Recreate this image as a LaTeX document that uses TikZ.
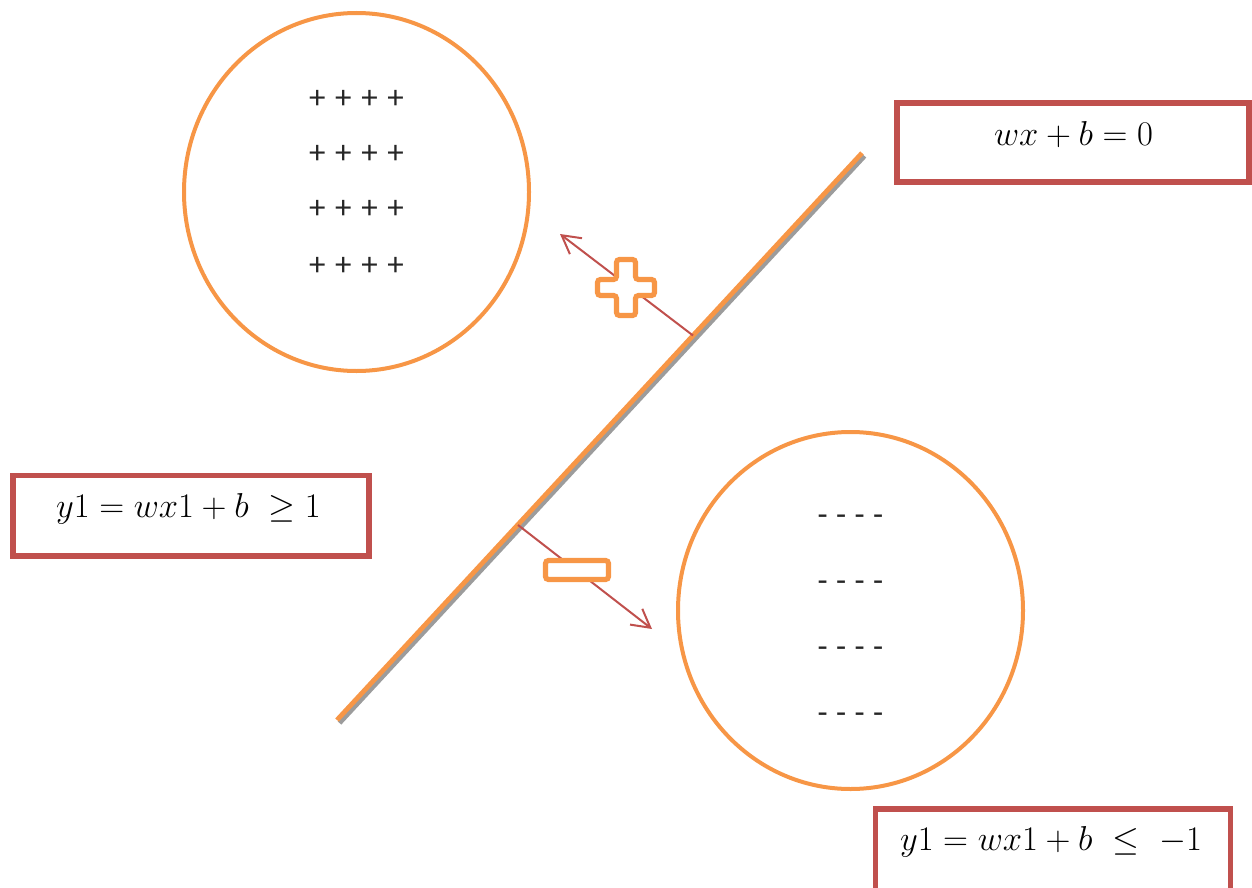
\documentclass[tikz,border=0pt]{standalone}
\usepackage{fontspec}
\newfontfamily\calibri{Carlito}
\usetikzlibrary{arrows.meta}
\definecolor{orng}{HTML}{F79646}
\definecolor{rd}{HTML}{C0504D}
\definecolor{shd}{HTML}{9C9C9C}
\definecolor{ink}{HTML}{262626}
\tikzset{
  ring/.style={draw=orng, line width=2pt},
  eqbox/.style={draw=rd, line width=2.6pt, fill=white, inner sep=0pt},
  eqtext/.style={font=\fontsize{17}{20}\selectfont, inner sep=0pt, anchor=base},
  plusrow/.style={text=ink, font={\calibri\fontsize{16.5}{20}\selectfont\spaceskip=4.8pt\relax}, inner sep=0pt, anchor=center},
  minusrow/.style={text=ink, font={\calibri\fontsize{16.5}{20}\selectfont\spaceskip=4.2pt\relax}, inner sep=0pt, anchor=center},
  normalarrow/.style={draw=rd, line width=1pt, -{Straight Barb[length=9pt,width=10pt]}},
  signshape/.style={draw=orng, line width=2.6pt, fill=white, rounded corners=1.5pt},
}
\begin{document}
\begin{tikzpicture}[x=0.5pt,y=-0.5pt]
\useasboundingbox (0,0) rectangle (1252,888);

% regions
\draw[ring] (356.5,192) ellipse [x radius=172.5, y radius=179];
\draw[ring] (850.5,610.5) ellipse [x radius=172.5, y radius=178.5];

\node[plusrow] (p1) at (356.5,99.5) {+ + + +};
\node[plusrow] (p2) at (356.5,154) {+ + + +};
\node[plusrow] (p3) at (356.5,209) {+ + + +};
\node[plusrow] (p4) at (356.5,266) {+ + + +};

\node[minusrow] (m1) at (850.5,520) {- - - -};
\node[minusrow] (m2) at (850.5,586) {- - - -};
\node[minusrow] (m3) at (850.5,652) {- - - -};
\node[minusrow] (m4) at (850.5,718) {- - - -};

% separating line with shadow
\coordinate (L0) at (337,720);
\coordinate (L1) at (862,153);
\draw[shd, line width=2.4pt] ([shift={(2.5,3)}]L0) -- ([shift={(2.5,3)}]L1);
\draw[orng, line width=2.4pt] (L0) -- (L1);

% normals
\coordinate (A1) at (693,335.5);
\coordinate (T1) at (560,234);
\coordinate (A2) at (518,525);
\coordinate (T2) at (652,629);
\draw[normalarrow] (A1) -- (T1);
\draw[normalarrow] (A2) -- (T2);

% plus sign
\draw[signshape] (616.5,259.5) -- (635.5,259.5) -- (635.5,279.5) -- (654.5,279.5)
  -- (654.5,295.5) -- (635.5,295.5) -- (635.5,315.5) -- (616.5,315.5)
  -- (616.5,295.5) -- (597.5,295.5) -- (597.5,279.5) -- (616.5,279.5) -- cycle;
% minus sign
\draw[signshape] (545.5,560.5) rectangle (608.5,579.5);

% equation boxes
\node[eqbox, minimum width=176pt, minimum height=39.5pt] (box1) at (1073,142.5) {};
\node[eqtext] (t1) at (1073.5,145) {$wx + b = 0$};

\node[eqbox, minimum width=178pt, minimum height=40.25pt] (box2) at (191,515.75) {};
\node[eqtext] (t2) at (188.5,517) {$y1 = wx1 + b\ \geq 1$};

\node[eqbox, minimum width=177.5pt, minimum height=41pt] (box3) at (1053,850) {};
\node[eqtext] (t3) at (1051,850) {$y1 = wx1 + b\ \leq\ -1$};
\end{tikzpicture}
\end{document}
